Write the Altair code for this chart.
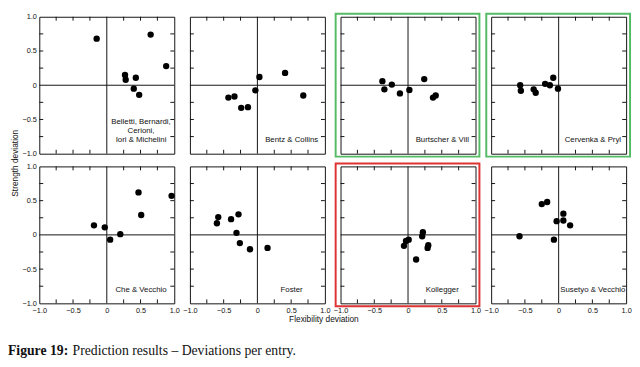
import altair as alt
import pandas as pd

# ---- data ----
panel_labels = [
    ["Belletti, Bernardi,", "Cerioni,", "Iori & Michelini"],
    ["Bentz & Collins"],
    ["Burtscher & Vill"],
    ["Cervenka & Pryl"],
    ["Che & Vecchio"],
    ["Foster"],
    ["Kollegger"],
    ["Susetyo & Vecchio"],
]
flex_dev = [
    [-0.15, 0.65, 0.88, 0.27, 0.28, 0.43, 0.40, 0.48],
    [-0.43, -0.34, -0.24, -0.14, -0.03, 0.03, 0.41, 0.68],
    [-0.38, -0.35, -0.24, -0.12, 0.02, 0.24, 0.37, 0.41],
    [-0.57, -0.56, -0.37, -0.34, -0.20, -0.13, -0.08, -0.01],
    [-0.19, -0.03, 0.05, 0.20, 0.47, 0.51, 0.96],
    [-0.60, -0.58, -0.39, -0.28, -0.31, -0.26, -0.11, 0.15],
    [-0.06, -0.03, 0.01, 0.12, 0.21, 0.22, 0.29, 0.30],
    [-0.58, -0.25, -0.17, -0.07, -0.03, 0.07, 0.07, 0.17],
]
strength_dev = [
    [0.68, 0.74, 0.28, 0.15, 0.08, 0.11, -0.05, -0.14],
    [-0.18, -0.165, -0.33, -0.32, -0.075, 0.12, 0.18, -0.15],
    [0.06, -0.06, 0.01, -0.12, -0.07, 0.09, -0.18, -0.15],
    [0.00, -0.08, -0.06, -0.11, 0.02, 0.00, 0.11, -0.05],
    [0.14, 0.11, -0.07, 0.01, 0.62, 0.29, 0.57],
    [0.17, 0.26, 0.23, 0.30, 0.03, -0.12, -0.21, -0.19],
    [-0.16, -0.09, -0.07, -0.36, -0.02, 0.04, -0.19, -0.15],
    [-0.02, 0.45, 0.48, -0.07, 0.20, 0.21, 0.31, 0.14],
]
frame_colors = [None, None, "#55bb66", "#55bb66", None, None, "#dd3333", None]
axis_values = [-1.0, -0.5, 0.0, 0.5, 1.0]
minor_ticks = [-0.75, -0.5, -0.25, 0.25, 0.5, 0.75]

W, H = 138, 140
FONT = "Liberation Sans"
label_expr = "datum.value == 0 ? '0' : format(datum.value, '.1f')"
FL, FR, FT, FB = 5, 4, 3, 3   # frame offsets outside the plot area

xs = alt.Scale(domain=[-1, 1], nice=False, zero=False)
ys = alt.Scale(domain=[-1, 1], nice=False, zero=False)


def make_axis(show):
    if not show:
        return None
    return alt.Axis(values=axis_values, labelExpr=label_expr, title=None,
                    ticks=False, domain=False, grid=False, labelFontSize=7.5,
                    labelFont=FONT, labelColor="#111", labelPadding=3,
                    labelFlush=False, labelOverlap=False)


def panel(i):
    left = i % 4 == 0
    bottom = i >= 4
    xa = make_axis(bottom)
    ya = make_axis(left)
    X = lambda f: alt.X(f, type="quantitative", scale=xs, axis=xa)
    Y = lambda f: alt.Y(f, type="quantitative", scale=ys, axis=ya)

    df = pd.DataFrame({"flex": flex_dev[i], "strength": strength_dev[i]})
    zero = pd.DataFrame({"z": [0.0]})
    ticks = pd.DataFrame({"t": minor_ticks})
    one = pd.DataFrame({"a": [0]})

    layers = []
    layers.append(alt.Chart(zero).mark_rule(color="#111", strokeWidth=1).encode(x=X("z")))
    layers.append(alt.Chart(zero).mark_rule(color="#111", strokeWidth=1).encode(y=Y("z")))
    tl = alt.Chart(ticks).mark_rule(color="#111", strokeWidth=1)
    layers.append(tl.encode(x=X("t"), y=alt.value(0), y2=alt.value(4)))
    layers.append(tl.encode(x=X("t"), y=alt.value(H), y2=alt.value(H - 4)))
    layers.append(tl.encode(y=Y("t"), x=alt.value(0), x2=alt.value(4)))
    layers.append(tl.encode(y=Y("t"), x=alt.value(W), x2=alt.value(W - 4)))
    layers.append(
        alt.Chart(df).mark_circle(size=42, color="black", opacity=1).encode(
            x=X("flex"), y=Y("strength"))
    )
    n = len(panel_labels[i])
    layers.append(
        alt.Chart(one).mark_text(text=panel_labels[i], align="center", baseline="top",
                                 fontSize=8, lineHeight=9.5, font=FONT, color="#111").encode(
            x=alt.value(W - 34), y=alt.value(H - 8 - n * 9.5))
    )
    # frame (invisible where the reference has none, so every panel has equal bounds)
    color = frame_colors[i] or "white"
    layers.append(
        alt.Chart(one).mark_rect(filled=False, stroke=color, strokeWidth=2,
                                 strokeOpacity=1 if frame_colors[i] else 0).encode(
            x=alt.value(-FL), x2=alt.value(W + FR), y=alt.value(-FT), y2=alt.value(H + FB))
    )
    return alt.layer(*layers).properties(
        width=W, height=H,
        view=alt.ViewBackground(stroke="#111", strokeWidth=1)
    )


grid = alt.concat(*[panel(i) for i in range(8)], columns=4,
                  spacing=alt.RowColnumber(row=3, column=2)).properties(
    title=alt.TitleParams("Strength deviation", orient="left", anchor="middle",
                          fontSize=8.5, font=FONT, fontWeight="normal", color="#111", offset=2)
)

one_row = pd.DataFrame({"a": [0]})
caption = alt.layer(
    alt.Chart(one_row).mark_text(text="Flexibility deviation", align="center", baseline="top",
                                 fontSize=8.5, font=FONT, color="#111").encode(
        x=alt.value(2 * W + 15), y=alt.value(1)),
    alt.Chart(one_row).mark_text(text="Figure 19:", align="left", baseline="alphabetic",
                                 fontSize=14, font="Liberation Serif", fontWeight="bold",
                                 color="#111").encode(
        x=alt.value(-32), y=alt.value(42)),
    alt.Chart(one_row).mark_text(text="Prediction results \u2013 Deviations per entry.",
                                 align="left", baseline="alphabetic",
                                 fontSize=14, font="Liberation Serif", color="#111").encode(
        x=alt.value(34), y=alt.value(42)),
).properties(width=4 * W + 30, height=45, view=alt.ViewBackground(stroke=None))

chart = alt.vconcat(grid, caption, spacing=0).configure(padding=0).configure_view(stroke=None)

chart.save("out.html", embed_options={"renderer": "svg", "actions": False})
